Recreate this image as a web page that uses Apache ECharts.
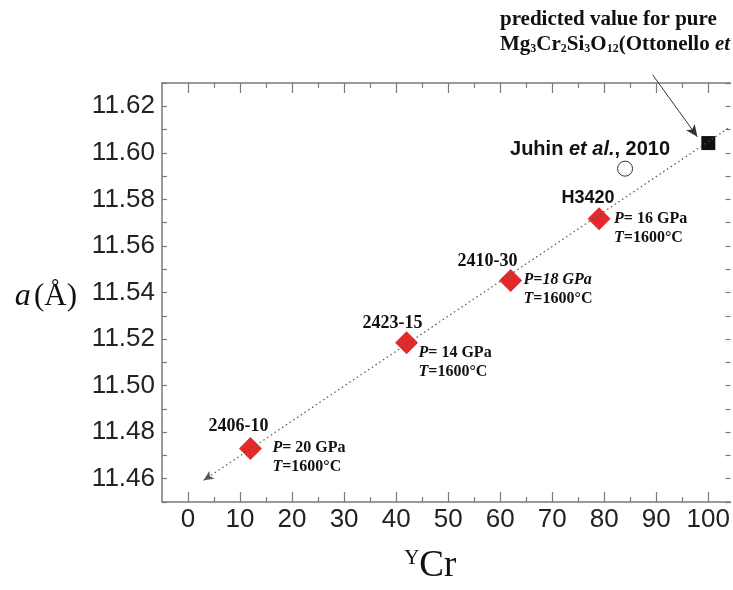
<!DOCTYPE html>
<html>
<head>
<meta charset="utf-8">
<script src="https://cdn.jsdelivr.net/npm/echarts@6/dist/echarts.min.js"></script>
<style>
  html, body { margin: 0; padding: 0; background: #fff; }
  #chart { width: 733px; height: 590px; }
</style>
</head>
<body>
<div id="chart"></div>
<script>
// experimental samples: YCr vs lattice parameter a
var sampleNames = ['2406-10', '2423-15', '2410-30', 'H3420']
var sampleCr = [12, 42, 62, 79]
var sampleA = [11.473, 11.5184, 11.5452, 11.5717]
var samplePressure = ['20 GPa', '14 GPa', '18 GPa', '16 GPa']
var sampleTemp = ['1600°C', '1600°C', '1600°C', '1600°C']

// literature values
var juhinPoint = [84, 11.5932]
var ottonelloPoint = [100, 11.6042]

// dotted trend line ends
var trendStart = [3, 11.4593]
var trendEnd = [104.2, 11.6111]

// arrow from the top note to the predicted value
var noteArrowStart = [89.3, 11.6335]
var noteArrowEnd = [97.9, 11.6069]

// ticks
var xMajorTicks = [0, 10, 20, 30, 40, 50, 60, 70, 80, 90, 100]
var xMinorTicks = [5, 15, 25, 35, 45, 55, 65, 75, 85, 95]
var yTickLabels = [11.46, 11.48, 11.50, 11.52, 11.54, 11.56, 11.58, 11.60, 11.62]

var chart = echarts.init(document.getElementById('chart'))

var frameColor = '#7a7a7a'
var serif = 'Liberation Serif'
var sans = 'Liberation Sans'
// the original frame runs past the right edge of the picture
var xMin = -5
var xMax = 104.27

// label placement per sample (pixels from the symbol centre)
var nameOffsets = [[-12, -22], [-14, -19], [-23, -19], [-11, -21]]
var condOffsets = [[22, 9], [12, 20], [13, 9], [15, 10]]

function xAxisPart (pos, ticks, len, showLine, showLabel) {
  return {
    type: 'value',
    position: pos,
    min: xMin,
    max: xMax,
    axisLine: { show: showLine, onZero: false, lineStyle: { color: frameColor, width: 1.5 } },
    axisTick: { show: true, inside: true, length: len, customValues: ticks, lineStyle: { color: frameColor, width: 1.2 } },
    axisLabel: showLabel ? {
      customValues: xMajorTicks,
      fontFamily: sans,
      fontSize: 26,
      color: '#222',
      margin: 5
    } : { show: false },
    splitLine: { show: false }
  }
}

var xBottom = xAxisPart('bottom', xMajorTicks, 10, true, true)
xBottom.name = '{sup|Y}{main|Cr}'
xBottom.nameLocation = 'middle'
xBottom.nameGap = 46
xBottom.nameTextStyle = {
  padding: [0, 32, 0, 0],
  rich: {
    sup: { fontFamily: serif, fontSize: 21, color: '#111', verticalAlign: 'top', padding: [0, 0, 14, 0] },
    main: { fontFamily: serif, fontSize: 37, color: '#111' }
  }
}

function yAxisPart (pos, showLabel, showLine) {
  return {
    type: 'value',
    position: pos,
    min: 11.45,
    max: 11.63,
    interval: 0.01,
    axisLine: { show: showLine, onZero: false, lineStyle: { color: frameColor, width: 1.5 } },
    axisTick: { show: true, inside: true, length: 5, lineStyle: { color: frameColor, width: 1.2 } },
    axisLabel: showLabel ? {
      customValues: yTickLabels,
      formatter: function (v) { return v.toFixed(2) },
      fontFamily: sans,
      fontSize: 26,
      color: '#222',
      margin: 7
    } : { show: false },
    splitLine: { show: false }
  }
}

var yLeft = yAxisPart('left', true, true)
yLeft.name = '{i|a} {n|(Å)}'
yLeft.nameLocation = 'middle'
yLeft.nameRotate = 0
yLeft.nameGap = 85
yLeft.nameTextStyle = {
  padding: [9, 0, 0, 0],
  rich: {
    i: { fontFamily: serif, fontStyle: 'italic', fontSize: 32, color: '#111' },
    n: { fontFamily: serif, fontSize: 31, color: '#111' }
  }
}

var condRich = {
  i: { fontFamily: serif, fontStyle: 'italic', fontWeight: 'bold', fontSize: 16, color: '#111', lineHeight: 19 },
  b: { fontFamily: serif, fontWeight: 'bold', fontSize: 16, color: '#111', lineHeight: 19 }
}

var sampleData = sampleCr.map(function (x, i) {
  var p = i === 2
    ? '{i|P=' + samplePressure[i] + '}'
    : '{i|P}{b|= ' + samplePressure[i] + '}'
  return {
    value: [x, sampleA[i]],
    label: {
      show: true,
      position: 'inside',
      align: 'left',
      verticalAlign: 'middle',
      offset: condOffsets[i],
      formatter: p + '\n{i|T}{b|=' + sampleTemp[i] + '}',
      rich: condRich
    }
  }
})

var nameData = sampleCr.map(function (x, i) {
  var isSans = sampleNames[i] === 'H3420'
  return {
    value: [x, sampleA[i]],
    label: {
      show: true,
      position: 'inside',
      align: 'center',
      verticalAlign: 'middle',
      offset: nameOffsets[i],
      formatter: sampleNames[i],
      fontFamily: isSans ? sans : serif,
      fontWeight: 'bold',
      fontSize: 18,
      color: '#111'
    }
  }
})

var option = {
  animation: false,
  backgroundColor: '#fff',
  grid: { left: 162, right: 0, top: 83, bottom: 82 },
  xAxis: [
    xBottom,
    xAxisPart('bottom', xMinorTicks, 5, false, false),
    xAxisPart('top', xMajorTicks, 10, true, false),
    xAxisPart('top', xMinorTicks, 5, false, false)
  ],
  yAxis: [yLeft, yAxisPart('right', false, false)],
  graphic: [
    {
      type: 'text',
      left: 500,
      top: 9,
      style: { text: 'predicted value for pure', fontFamily: serif, fontWeight: 'bold', fontSize: 21, fill: '#111' }
    },
    {
      type: 'text',
      left: 500,
      top: 34,
      style: {
        text: '{b|Mg}{s|3}{b|Cr}{s|2}{b|Si}{s|3}{b|O}{s|12}{b|(Ottonello }{i|et al.}',
        rich: {
          b: { fontFamily: serif, fontWeight: 'bold', fontSize: 21, fill: '#111' },
          s: { fontFamily: serif, fontWeight: 'bold', fontSize: 12, fill: '#111', padding: [9, 0, 0, 0] },
          i: { fontFamily: serif, fontWeight: 'bold', fontStyle: 'italic', fontSize: 21, fill: '#111' }
        }
      }
    }
  ],
  series: [
    {
      name: 'trend',
      type: 'scatter',
      data: [],
      z: 1,
      markLine: {
        silent: true,
        animation: false,
        symbol: ['arrow', 'none'],
        symbolSize: [7, 10],
        label: { show: false },
        lineStyle: { color: '#555', width: 1.2, type: [1.5, 3] },
        data: [[{ coord: trendStart }, { coord: trendEnd }]]
      }
    },
    {
      name: 'samples',
      type: 'scatter',
      symbol: 'diamond',
      symbolSize: 23,
      itemStyle: { color: '#e5292a', opacity: 1 },
      z: 3,
      data: sampleData
    },
    {
      name: 'names',
      type: 'scatter',
      symbol: 'circle',
      symbolSize: 1,
      itemStyle: { color: 'rgba(0,0,0,0)', opacity: 1 },
      z: 4,
      data: nameData
    },
    {
      name: 'Juhin',
      type: 'scatter',
      symbol: 'circle',
      symbolSize: 15,
      itemStyle: { color: '#fff', borderColor: '#333', borderWidth: 1, opacity: 1 },
      z: 3,
      label: {
        show: true,
        position: 'inside',
        align: 'center',
        verticalAlign: 'middle',
        offset: [-35, -19],
        formatter: '{b|Juhin }{i|et al.}{b|, 2010}',
        rich: {
          b: { fontFamily: sans, fontWeight: 'bold', fontSize: 20, color: '#111' },
          i: { fontFamily: sans, fontWeight: 'bold', fontStyle: 'italic', fontSize: 20, color: '#111' }
        }
      },
      data: [juhinPoint]
    },
    {
      id: 'otto',
      name: 'Ottonello',
      type: 'scatter',
      symbol: 'rect',
      symbolSize: 14,
      itemStyle: { color: '#111', opacity: 1 },
      clip: false,
      z: 3,
      data: [ottonelloPoint]
    }
  ]
}

chart.setOption(option)

// the note arrow starts above the frame, so place it through the axes' own scale
var finder = { xAxisIndex: 0, yAxisIndex: 0 }
var a0 = chart.convertToPixel(finder, noteArrowStart)
var a1 = chart.convertToPixel(finder, noteArrowEnd)
chart.setOption({
  series: [{
    id: 'otto',
    markLine: {
      silent: true,
      animation: false,
      symbol: ['none', 'arrow'],
      symbolSize: [8, 12],
      label: { show: false },
      lineStyle: { color: '#333', width: 1, type: 'solid' },
      data: [[{ x: a0[0], y: a0[1] }, { x: a1[0], y: a1[1] }]]
    }
  }]
})
</script>
</body>
</html>
